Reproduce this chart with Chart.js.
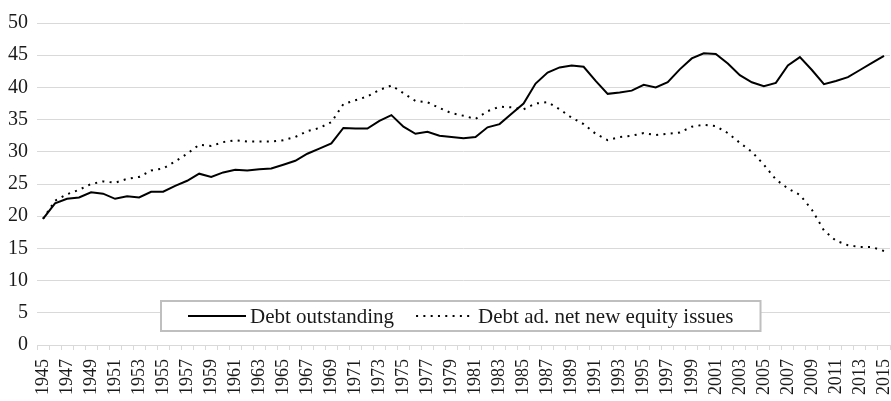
<!DOCTYPE html>
<html>
<head>
<meta charset="utf-8">
<script src="https://cdn.jsdelivr.net/npm/chart.js@4/dist/chart.umd.min.js"></script>
<style>
  html, body { margin: 0; padding: 0; background: #fff; }
  #wrap { width: 891px; height: 401px; position: relative; }
</style>
</head>
<body>
<div id="wrap"><canvas id="debtChart"></canvas></div>
<script>
// years on the x axis
const years = [
	"1945", "1946", "1947", "1948", "1949", "1950", "1951", "1952", "1953", "1954",
	"1955", "1956", "1957", "1958", "1959", "1960", "1961", "1962", "1963", "1964",
	"1965", "1966", "1967", "1968", "1969", "1970", "1971", "1972", "1973", "1974",
	"1975", "1976", "1977", "1978", "1979", "1980", "1981", "1982", "1983", "1984",
	"1985", "1986", "1987", "1988", "1989", "1990", "1991", "1992", "1993", "1994",
	"1995", "1996", "1997", "1998", "1999", "2000", "2001", "2002", "2003", "2004",
	"2005", "2006", "2007", "2008", "2009", "2010", "2011", "2012", "2013", "2014",
	"2015"
];

// Debt outstanding (solid)
const debtOutstanding = [
	19.6, 22.0, 22.7, 22.9, 23.7, 23.5, 22.7, 23.1, 22.9, 23.8,
	23.8, 24.7, 25.5, 26.6, 26.1, 26.8, 27.2, 27.1, 27.3, 27.4,
	28.0, 28.6, 29.7, 30.5, 31.3, 33.7, 33.6, 33.6, 34.8, 35.7,
	33.9, 32.8, 33.1, 32.5, 32.3, 32.1, 32.3, 33.8, 34.3, 35.9,
	37.5, 40.6, 42.3, 43.1, 43.4, 43.2, 41.0, 39.0, 39.2, 39.5,
	40.4, 40.0, 40.8, 42.8, 44.5, 45.3, 45.2, 43.7, 41.9, 40.8,
	40.2, 40.7, 43.4, 44.7, 42.7, 40.5, 41.0, 41.6, 42.7, 43.8,
	44.9
];

// Debt ad. net new equity issues (dotted)
const debtAdjusted = [
	19.6, 22.4, 23.4, 24.1, 25.0, 25.4, 25.2, 25.8, 26.1, 27.1,
	27.4, 28.5, 29.7, 31.1, 30.9, 31.5, 31.8, 31.6, 31.6, 31.6,
	31.8, 32.3, 33.2, 33.7, 34.6, 37.4, 38.0, 38.6, 39.6, 40.3,
	39.1, 37.9, 37.7, 36.8, 36.0, 35.6, 35.1, 36.3, 37.0, 36.9,
	36.6, 37.5, 37.7, 36.6, 35.3, 34.3, 32.8, 31.8, 32.3, 32.5,
	32.9, 32.6, 32.8, 33.0, 33.9, 34.2, 34.0, 32.9, 31.4, 30.0,
	28.0, 25.7, 24.3, 23.3, 21.0, 17.8, 16.2, 15.5, 15.2, 15.2,
	14.6
];

const FONT = '"Liberation Serif", "Times New Roman", serif';
const GRID = "#d9d9d9";
const TEXT = "#1a1a1a";

// legend drawn as a boxed row inside the plot, near the bottom
const boxedLegend = {
	id: "boxedLegend",
	afterDraw(chart) {
		const ctx = chart.ctx;
		const area = chart.chartArea;
		ctx.save();
		ctx.font = "21px " + FONT;
		const sample = 58, gap = 4, itemGap = 22, padX = 27, boxH = 30;
		const items = chart.data.datasets.map((ds) => ({
			label: ds.label,
			dash: ds.borderDash || [],
			w: ctx.measureText(ds.label).width
		}));
		let total = padX * 2 + itemGap * (items.length - 1);
		items.forEach((it) => (total += sample + gap + it.w));
		const x0 = Math.round((area.left + area.right) / 2 - total / 2) - 3;
		const y0 = area.bottom - 14 - boxH;

		ctx.fillStyle = "#fff";
		ctx.fillRect(x0, y0, total, boxH);
		ctx.strokeStyle = "#bfbfbf";
		ctx.lineWidth = 2;
		ctx.strokeRect(x0, y0, total, boxH);

		let x = x0 + padX;
		const cy = y0 + boxH / 2;
		items.forEach((it) => {
			ctx.beginPath();
			ctx.setLineDash(it.dash);
			ctx.strokeStyle = "#000";
			ctx.lineWidth = 2;
			ctx.moveTo(x, cy);
			ctx.lineTo(x + sample, cy);
			ctx.stroke();
			ctx.setLineDash([]);
			x += sample + gap;
			ctx.fillStyle = TEXT;
			ctx.textBaseline = "middle";
			ctx.fillText(it.label, x, cy + 1);
			x += it.w + itemGap;
		});
		ctx.restore();
	}
};

const ctx = document.getElementById("debtChart").getContext("2d");
const debtChart = new Chart(ctx, {
	type: "line",
	data: {
		labels: years,
		datasets: [
			{
				label: "Debt outstanding",
				data: debtOutstanding,
				borderColor: "#000",
				borderWidth: 2,
				pointRadius: 0,
				tension: 0,
				fill: false
			},
			{
				label: "Debt ad. net new equity issues",
				data: debtAdjusted,
				borderColor: "#000",
				borderWidth: 2,
				borderDash: [2, 5.3],
				pointRadius: 0,
				tension: 0,
				fill: false
			}
		]
	},
	options: {
		responsive: true,
		maintainAspectRatio: false,
		animation: false,
		layout: { padding: { top: 23, right: 1, left: 0, bottom: 0 } },
		plugins: {
			legend: { display: false },
			tooltip: { enabled: false }
		},
		scales: {
			x: {
				type: "category",
				offset: true,
				border: { display: true, color: GRID, width: 1 },
				grid: {
					offset: true,
					drawOnChartArea: false,
					drawTicks: true,
					tickLength: 5,
					color: GRID
				},
				ticks: {
					autoSkip: false,
					maxRotation: 90,
					minRotation: 90,
					padding: 9,
					color: TEXT,
					font: { family: FONT, size: 18 },
					callback: function (value, index) {
						return index % 2 === 0 ? this.getLabelForValue(value) : "";
					}
				},
				afterFit: (scale) => {
					scale.height = 56;
					scale.paddingLeft = 0;
					scale.paddingRight = 0;
				}
			},
			y: {
				min: 0,
				max: 50,
				border: { display: false },
				grid: { color: GRID, lineWidth: 1, drawTicks: false },
				ticks: {
					stepSize: 5,
					padding: 9,
					color: TEXT,
					font: { family: FONT, size: 20 }
				},
				afterFit: (scale) => {
					scale.width = 37;
				}
			}
		}
	},
	plugins: [boxedLegend]
});
</script>
</body>
</html>
